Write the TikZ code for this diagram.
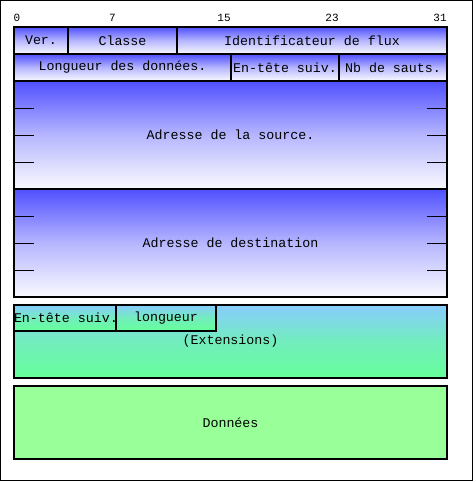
\documentclass[tikz,border=0pt]{standalone}
\usepackage{fontspec}
\setmonofont{Liberation Mono}
\usetikzlibrary{calc}
\definecolor{hdrblue}{RGB}{80,80,255}
\definecolor{hdrwhite}{RGB}{250,250,255}
\definecolor{extblue}{RGB}{136,204,255}
\definecolor{extgreen}{RGB}{102,255,153}
\definecolor{datagreen}{RGB}{153,255,153}
\begin{document}
\begin{tikzpicture}[x=1pt,y=-1pt,
    box/.style={draw,line width=1.2pt,rectangle,anchor=north west,inner sep=0pt,outer sep=0pt,
        font=\ttfamily\fontsize{13.3}{15}\selectfont},
    field/.style={box,top color=hdrblue,bottom color=hdrwhite,middle color=hdrblue!40!hdrwhite},
    extfield/.style={box,top color=extblue,bottom color=extgreen,middle color=extblue!35!extgreen},
    datafield/.style={box,fill=datagreen},
    bitnum/.style={font=\ttfamily\fontsize{11}{13}\selectfont,inner sep=0pt}]
    \useasboundingbox (0,0) rectangle (476,482);
    \draw[line width=1pt] (0.5,0.5) rectangle (472.5,480);
    %bit numbers
    \foreach \b/\x in {0/17,7/112.5,15/224,23/332,31/440}
        {%
            \node[bitnum] (bit\b) at (\x,17.5) {\b};
        }
    %first row
    \node[field,minimum width=54,minimum height=27] (ver) at (14,27) {Ver.};
    \node[field,minimum width=109,minimum height=27] (classe) at (68,27) {Classe};
    \node[field,minimum width=270,minimum height=27] (flux) at (177,27) {Identificateur de flux};
    %second row
    \node[field,minimum width=217,minimum height=27] (longueur) at (14,54) {Longueur des données.};
    \node[field,minimum width=108,minimum height=27] (suivant) at (231,54) {En-tête suiv.};
    \node[field,minimum width=108,minimum height=27] (sauts) at (339,54) {Nb de sauts.};
    %addresses
    \node[field,minimum width=433,minimum height=108] (source) at (14,81) {Adresse de la source.};
    \node[field,minimum width=433,minimum height=108] (destination) at (14,189) {Adresse de destination};
    \foreach \a in {source,destination}
        {%
            \foreach \i in {1,2,3}
                {%
                    \draw[line width=1pt] ($(\a.north west)!\i/4!(\a.south west)$) -- ++(20,0);
                    \draw[line width=1pt] ($(\a.north east)!\i/4!(\a.south east)$) -- ++(-20,0);
                }
        }
    %extensions
    \node[extfield,minimum width=433,minimum height=73] (ext) at (14,305) {(Extensions)};
    \node[extfield,minimum width=102,minimum height=26] (extsuivant) at (14,305) {En-tête suiv.};
    \node[extfield,minimum width=100,minimum height=26] (extlongueur) at (116,305) {longueur};
    %data
    \node[datafield,minimum width=433,minimum height=73] (donnees) at (14,386) {Données};
\end{tikzpicture}
\end{document}
